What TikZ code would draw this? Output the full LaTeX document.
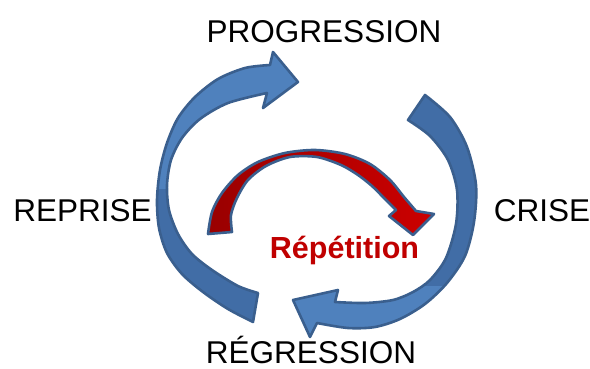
\documentclass[tikz,border=0pt]{standalone}
\usepackage{fontspec}
\setmainfont{Liberation Sans}
\definecolor{bline}{HTML}{3A5F8E}
\definecolor{blight}{HTML}{4F81BD}
\definecolor{bdark}{HTML}{416DA6}
\definecolor{rdark}{HTML}{990000}
\definecolor{rlight}{HTML}{CC0000}
\definecolor{rtext}{HTML}{C00000}
\begin{document}
\begin{tikzpicture}[x=1pt,y=-1pt,
  outl/.style={draw=bline,line width=2.6pt,line join=round},
  lbl/.style={font=\fontsize{31.5}{36}\selectfont,anchor=base,inner sep=0pt}]
\useasboundingbox (0,0) rectangle (590,369);
\def\leftA{plot[smooth] coordinates {(253,322) (228,309) (203,292) (182,274) (167,253) (159,228) (157,200) (160,170) (167,143) (178,118) (195,97) (218,79) (245,68) (270,65)} -- (273,52) -- (298,82) -- (263,108) -- plot[smooth] coordinates {(267,93) (228,103) (200,119) (182,138) (171,160) (167,185) (169,210) (178,234) (192,254) (212,270) (238,286) (258,293)} -- cycle}
\def\rightA{plot[smooth] coordinates {(425,95) (450,117) (467,147) (476,185) (474,222) (465,256) (447,283) (425,304) (400,319) (375,327) (348,328) (317,323)} -- (310,337) -- (293,300) -- (338,290) -- plot[smooth] coordinates {(335,302) (365,303) (393,300) (413,292) (430,280) (446,258) (456,224) (457,190) (448,160) (430,136) (408,120)} -- cycle}
\def\redA{plot[smooth] coordinates {(208,234) (212,212) (222,193) (238,175) (258,162) (285,153) (315,150) (345,154) (370,164) (390,180) (404,197) (416,211)} -- (434,214) -- (413,235) -- (389,216) -- plot[smooth] coordinates {(396,210) (384,198) (372,186) (358,175) (341,165) (317,157) (290,157) (266,166) (248,180) (237,198) (231,215) (232,232)} -- cycle}
% left arrow
\fill[bdark] \leftA;
\begin{scope}
  \clip (0,0) rectangle (590,188);
  \fill[blight] \leftA;
\end{scope}
\draw[outl] \leftA;
% right arrow
\fill[bdark] \rightA;
\begin{scope}
  \clip (0,286) rectangle (590,369);
  \fill[blight] \rightA;
\end{scope}
\draw[outl] \rightA;
% red arrow
\path[outl,left color=rdark,right color=rlight] \redA;
% labels
\node[lbl] (prog) at (324,42.5) {PROGRESSION};
\node[lbl] (repr) at (82.5,222) {REPRISE};
\node[lbl] (cris) at (542,222) {CRISE};
\node[lbl] (regr) at (311,363.5) {RÉGRESSION};
\node[lbl,font=\bfseries\fontsize{30.5}{35}\selectfont,text=rtext] (rep) at (344.5,258) {Répétition};
\end{tikzpicture}
\end{document}
